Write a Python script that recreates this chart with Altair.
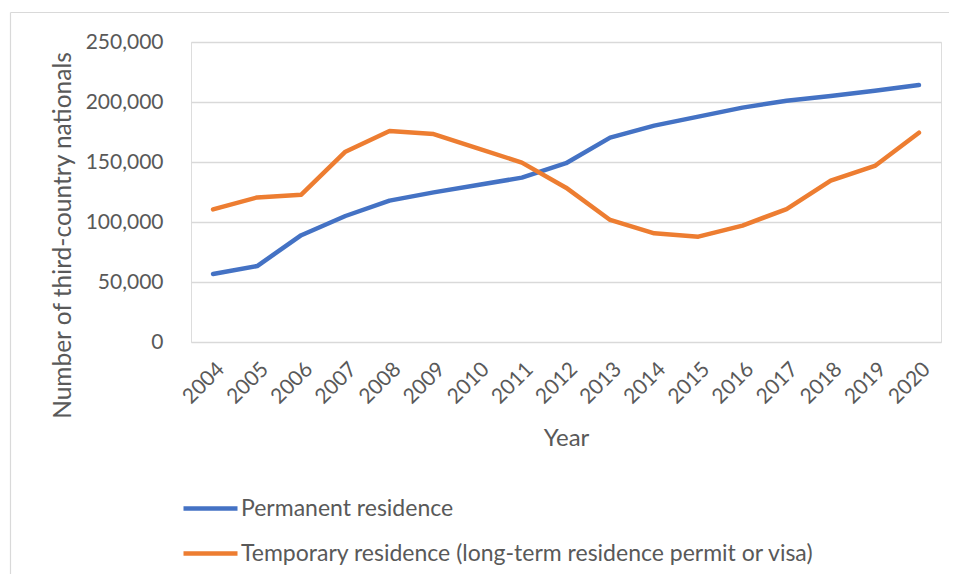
import altair as alt
import pandas as pd

years = [str(y) for y in range(2004, 2021)]
permanent = [56700, 63300, 89000, 105000, 117800, 124700, 130800, 137000, 149000,
             170300, 180300, 187800, 195300, 201100, 205000, 209400, 214200]
temporary = [110500, 120500, 122800, 158600, 175800, 173300, 161400, 149500, 128600,
             101700, 90600, 87800, 97000, 110800, 134400, 146700, 174400]
series_names = ["Permanent residence",
                "Temporary residence (long-term residence permit or visa)"]
series_colors = ["#4472C4", "#ED7D31"]
y_ticks = [0, 50000, 100000, 150000, 200000, 250000]

rows = []
for i, yr in enumerate(years):
    rows.append({"Year": yr, "Series": series_names[0], "Value": permanent[i]})
    rows.append({"Year": yr, "Series": series_names[1], "Value": temporary[i]})
df = pd.DataFrame(rows)

FONT = "Lato"
GREY = "#595959"

lines = alt.Chart(df).mark_line(strokeWidth=4.5, strokeCap="round", strokeJoin="round").encode(
    x=alt.X("Year:O", scale=alt.Scale(padding=0.5),
            axis=alt.Axis(title="Year", labelAngle=-45, labelFontSize=21, labelColor=GREY,
                          labelFont=FONT, titleFont=FONT, titleFontSize=24, titleColor=GREY,
                          titleFontWeight="normal", titleY=96, titleBaseline="middle",
                          domain=False, ticks=False, labelPadding=16,
                          grid=False)),
    y=alt.Y("Value:Q", scale=alt.Scale(domain=[0, 250000]),
            axis=alt.Axis(title="Number of third-country nationals", values=y_ticks,
                          format=",.0f", labelFontSize=21, labelColor=GREY, labelFont=FONT,
                          titleFont=FONT, titleFontSize=24.5, titleColor=GREY,
                          titleFontWeight="normal", titleX=-128, titleY=193,
                          titleBaseline="middle", titleAngle=-90,
                          domain=False, ticks=False, labelPadding=28,
                          grid=True, gridColor="#d9d9d9", gridWidth=1.5)),
    color=alt.Color("Series:N", sort=series_names,
                    scale=alt.Scale(domain=series_names, range=series_colors),
                    legend=alt.Legend(title=None, orient="none", legendX=7, legendY=454,
                                      direction="vertical",
                                      symbolType="M-2.7,0H2.7", symbolSize=400,
                                      symbolStrokeWidth=4.5, labelFontSize=23,
                                      labelFont=FONT, labelColor=GREY, labelOffset=18,
                                      rowPadding=20, labelLimit=800)),
)

frame_src = pd.DataFrame({"a": [0]})
frame_left = alt.Chart(frame_src).mark_rule(stroke="#d9d9d9", strokeWidth=1.2).encode(
    x=alt.value(-180.5), y=alt.value(-29.5), y2=alt.value(700)
)
frame_top = alt.Chart(frame_src).mark_rule(stroke="#d9d9d9", strokeWidth=1.2).encode(
    x=alt.value(-180.5), x2=alt.value(800), y=alt.value(-29.5)
)

chart = alt.layer(frame_left, frame_top, lines).properties(
    width=750, height=300,
    padding={"left": 183, "top": 34, "right": 8, "bottom": 232},
    autosize=alt.AutoSizeParams(type="none"),
).configure_view(stroke=None).configure(background="white")

chart.save("out.html", embed_options={"renderer": "svg", "actions": False})
